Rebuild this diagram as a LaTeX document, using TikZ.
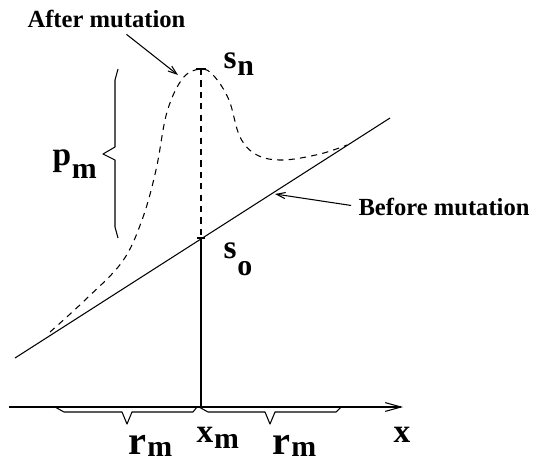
\documentclass[tikz,border=0pt]{standalone}
\usepackage{fontspec}
\setmainfont{Liberation Serif}
\usetikzlibrary{arrows.meta}
\newcommand{\sublbl}[3]{#1\kern0.5pt\raisebox{-#3}{\fontsize{17}{17}\selectfont #2}}

\begin{document}
\begin{tikzpicture}[x=0.02cm, y=-0.02cm, line join=round, line width=0.6pt,
	lbl/.style={anchor=base west, inner sep=0pt, font=\bfseries\fontsize{19}{19}\selectfont},
	note/.style={anchor=base west, inner sep=0pt, font=\bfseries\fontsize{14}{16}\selectfont},
	curve/.style={dash pattern=on 3.5pt off 3pt},
	pointer/.style={-{Straight Barb[length=5pt,width=3.5pt]}}]
	
	\useasboundingbox (0,0) rectangle (533,464);
	
	\coordinate (lineA) at (15,358);
	\coordinate (lineB) at (390,118);
	\coordinate (top) at (201,69);
	\coordinate (so) at (201,238);
	\coordinate (xm) at (201,407);
	\coordinate (axL) at (9,407);
	\coordinate (axR) at (403,407);
	\coordinate (aftertip) at (178,75);
	\coordinate (beforetip) at (275,194);
	
	% before and after
	\draw (lineA) -- (lineB);
	\draw[curve] plot[smooth, tension=0.6] coordinates {(50,332) (84,301) (122,262)
		(142,220) (156,170) (167,112) (183,78) (201,69) (214,76) (229,100) (240,137)
		(257,155) (283,160) (320,154) (347,145)};
	
	\draw[curve] (top) -- (so);
	\draw (so) -- (xm);
	\draw (top) ++(-5,0) -- ++(10,0);
	\draw (so) ++(-4,0) -- ++(8,0);
	
	% axis
	\draw[-{Straight Barb[length=9pt,width=5pt]}] (axL) -- (axR);
	
	% braces
	\draw (55,407) -- (64,412) -- (122,412) -- (127,424) -- (132,412) -- (193,412) -- (197,407);
	\draw (199,407) -- (208,412) -- (265,412) -- (270,424) -- (275,412) -- (336,412) -- (341,407);
	\draw (118,69) -- (115,80) -- (115,147) -- (103,154) -- (115,160) -- (115,227) -- (118,238);
	
	% labels
	\node[note] (after) at (27,27) {After mutation};
	\node[note] (before) at (358,215) {Before mutation};
	\node[lbl] (sn) at (223,68) {\sublbl{s}{n}{4pt}};
	\node[lbl] (so lbl) at (223,258) {\sublbl{s}{o}{10pt}};
	\node[lbl] (pm) at (52,165) {\sublbl{p}{m}{7.5pt}};
	\node[lbl] (rm1) at (128,454) {\sublbl{{\fontsize{23}{23}\selectfont r}}{m}{1.5pt}};
	\node[lbl] (xmlbl) at (196,442) {\sublbl{x}{m}{3.5pt}};
	\node[lbl] (rm2) at (272,454) {\sublbl{{\fontsize{23}{23}\selectfont r}}{m}{1.5pt}};
	\node[lbl] (xlbl) at (393,442) {x};
	
	\draw[pointer, shorten <=6pt] (after) -- (aftertip);
	\draw[pointer, shorten <=4pt] (before.west) -- (beforetip);
\end{tikzpicture}
\end{document}
